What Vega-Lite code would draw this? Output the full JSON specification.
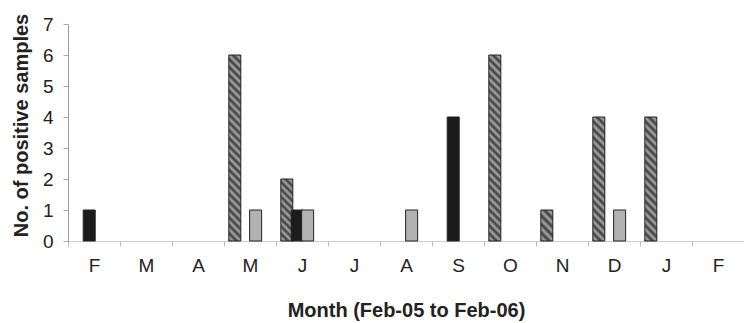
{
  "$schema": "https://vega.github.io/schema/vega-lite/v6.json",
  "width": 676,
  "height": 217,
  "autosize": {"type": "none"},
  "padding": {"left": 68, "top": 24, "right": 0, "bottom": 82},
  "background": "white",
  "config": {"view": {"stroke": null}, "font": "Liberation Sans"},
  "data": {
    "values": [
      {"month": "May-05", "series": "hatched", "count": 6},
      {"month": "Jun-05", "series": "hatched", "count": 2},
      {"month": "Oct-05", "series": "hatched", "count": 6},
      {"month": "Nov-05", "series": "hatched", "count": 1},
      {"month": "Dec-05", "series": "hatched", "count": 4},
      {"month": "Jan-06", "series": "hatched", "count": 4},
      {"month": "Feb-05", "series": "black", "count": 1},
      {"month": "Jun-05", "series": "black", "count": 1},
      {"month": "Sep-05", "series": "black", "count": 4},
      {"month": "May-05", "series": "grey", "count": 1},
      {"month": "Jun-05", "series": "grey", "count": 1},
      {"month": "Aug-05", "series": "grey", "count": 1},
      {"month": "Dec-05", "series": "grey", "count": 1}
    ]
  },
  "mark": {"type": "bar", "width": 12, "stroke": "#222222", "strokeWidth": 1},
  "encoding": {
    "x": {
      "field": "month",
      "type": "nominal",
      "sort": null,
      "scale": {
        "type": "band",
        "domain": ["Feb-05", "Mar-05", "Apr-05", "May-05", "Jun-05", "Jul-05", "Aug-05", "Sep-05", "Oct-05", "Nov-05", "Dec-05", "Jan-06", "Feb-06"],
        "paddingInner": 0,
        "paddingOuter": 0
      },
      "axis": {
        "title": "Month (Feb-05 to Feb-06)",
        "labelExpr": "substring(datum.label, 0, 1)",
        "labelAngle": 0,
        "labelFontSize": 19,
        "labelColor": "#222222",
        "labelPadding": 10,
        "tickBand": "extent",
        "tickSize": 5,
        "tickColor": "#bbbbbb",
        "domainColor": "#cccccc",
        "titleFontSize": 20,
        "titleFontWeight": "bold",
        "titleColor": "#222222",
        "titlePadding": 25
      }
    },
    "xOffset": {
      "field": "series",
      "type": "nominal",
      "scale": {
        "domain": ["hatched", "black", "grey"],
        "paddingInner": 0,
        "paddingOuter": 1.17,
        "align": 0.27
      }
    },
    "y": {
      "field": "count",
      "type": "quantitative",
      "scale": {"domain": [0, 7], "nice": false},
      "axis": {
        "title": "No. of positive samples",
        "values": [0, 1, 2, 3, 4, 5, 6, 7],
        "grid": false,
        "labelFontSize": 19,
        "labelColor": "#222222",
        "labelPadding": 10,
        "tickSize": 5,
        "tickColor": "#aaaaaa",
        "domainColor": "#999999",
        "titleFontSize": 20,
        "titleFontWeight": "bold",
        "titleColor": "#222222",
        "titlePadding": 11,
        "titleY": 101
      }
    },
    "fill": {
      "condition": [
        {
          "test": "datum.series == 'hatched' && datum.count == 6",
          "value": {
            "gradient": "linear", "x1": 0, "y1": 1, "x2": 0.0684, "y2": -0.0601,
            "stops": [
              {"offset": 0, "color": "#3a3a3a"}, {"offset": 0.02, "color": "#a8a8a8"}, {"offset": 0.04, "color": "#3a3a3a"}, {"offset": 0.06, "color": "#a8a8a8"},
              {"offset": 0.08, "color": "#3a3a3a"}, {"offset": 0.1, "color": "#a8a8a8"}, {"offset": 0.12, "color": "#3a3a3a"}, {"offset": 0.14, "color": "#a8a8a8"},
              {"offset": 0.16, "color": "#3a3a3a"}, {"offset": 0.18, "color": "#a8a8a8"}, {"offset": 0.2, "color": "#3a3a3a"}, {"offset": 0.22, "color": "#a8a8a8"},
              {"offset": 0.24, "color": "#3a3a3a"}, {"offset": 0.26, "color": "#a8a8a8"}, {"offset": 0.28, "color": "#3a3a3a"}, {"offset": 0.3, "color": "#a8a8a8"},
              {"offset": 0.32, "color": "#3a3a3a"}, {"offset": 0.34, "color": "#a8a8a8"}, {"offset": 0.36, "color": "#3a3a3a"}, {"offset": 0.38, "color": "#a8a8a8"},
              {"offset": 0.4, "color": "#3a3a3a"}, {"offset": 0.42, "color": "#a8a8a8"}, {"offset": 0.44, "color": "#3a3a3a"}, {"offset": 0.46, "color": "#a8a8a8"},
              {"offset": 0.48, "color": "#3a3a3a"}, {"offset": 0.5, "color": "#a8a8a8"}, {"offset": 0.52, "color": "#3a3a3a"}, {"offset": 0.54, "color": "#a8a8a8"},
              {"offset": 0.56, "color": "#3a3a3a"}, {"offset": 0.58, "color": "#a8a8a8"}, {"offset": 0.6, "color": "#3a3a3a"}, {"offset": 0.62, "color": "#a8a8a8"},
              {"offset": 0.64, "color": "#3a3a3a"}, {"offset": 0.66, "color": "#a8a8a8"}, {"offset": 0.68, "color": "#3a3a3a"}, {"offset": 0.7, "color": "#a8a8a8"},
              {"offset": 0.72, "color": "#3a3a3a"}, {"offset": 0.74, "color": "#a8a8a8"}, {"offset": 0.76, "color": "#3a3a3a"}, {"offset": 0.78, "color": "#a8a8a8"},
              {"offset": 0.8, "color": "#3a3a3a"}, {"offset": 0.82, "color": "#a8a8a8"}, {"offset": 0.84, "color": "#3a3a3a"}, {"offset": 0.86, "color": "#a8a8a8"},
              {"offset": 0.88, "color": "#3a3a3a"}, {"offset": 0.9, "color": "#a8a8a8"}, {"offset": 0.92, "color": "#3a3a3a"}, {"offset": 0.94, "color": "#a8a8a8"},
              {"offset": 0.96, "color": "#3a3a3a"}, {"offset": 0.98, "color": "#a8a8a8"}, {"offset": 1, "color": "#3a3a3a"}
            ]
          }
        },
        {
          "test": "datum.series == 'hatched' && datum.count == 4",
          "value": {
            "gradient": "linear", "x1": 0, "y1": 1, "x2": 0.1052, "y2": -0.0866,
            "stops": [
              {"offset": 0, "color": "#3a3a3a"}, {"offset": 0.0294, "color": "#a8a8a8"}, {"offset": 0.0588, "color": "#3a3a3a"}, {"offset": 0.0882, "color": "#a8a8a8"},
              {"offset": 0.1176, "color": "#3a3a3a"}, {"offset": 0.1471, "color": "#a8a8a8"}, {"offset": 0.1765, "color": "#3a3a3a"}, {"offset": 0.2059, "color": "#a8a8a8"},
              {"offset": 0.2353, "color": "#3a3a3a"}, {"offset": 0.2647, "color": "#a8a8a8"}, {"offset": 0.2941, "color": "#3a3a3a"}, {"offset": 0.3235, "color": "#a8a8a8"},
              {"offset": 0.3529, "color": "#3a3a3a"}, {"offset": 0.3824, "color": "#a8a8a8"}, {"offset": 0.4118, "color": "#3a3a3a"}, {"offset": 0.4412, "color": "#a8a8a8"},
              {"offset": 0.4706, "color": "#3a3a3a"}, {"offset": 0.5, "color": "#a8a8a8"}, {"offset": 0.5294, "color": "#3a3a3a"}, {"offset": 0.5588, "color": "#a8a8a8"},
              {"offset": 0.5882, "color": "#3a3a3a"}, {"offset": 0.6176, "color": "#a8a8a8"}, {"offset": 0.6471, "color": "#3a3a3a"}, {"offset": 0.6765, "color": "#a8a8a8"},
              {"offset": 0.7059, "color": "#3a3a3a"}, {"offset": 0.7353, "color": "#a8a8a8"}, {"offset": 0.7647, "color": "#3a3a3a"}, {"offset": 0.7941, "color": "#a8a8a8"},
              {"offset": 0.8235, "color": "#3a3a3a"}, {"offset": 0.8529, "color": "#a8a8a8"}, {"offset": 0.8824, "color": "#3a3a3a"}, {"offset": 0.9118, "color": "#a8a8a8"},
              {"offset": 0.9412, "color": "#3a3a3a"}, {"offset": 0.9706, "color": "#a8a8a8"}, {"offset": 1, "color": "#3a3a3a"}
            ]
          }
        },
        {
          "test": "datum.series == 'hatched' && datum.count == 2",
          "value": {
            "gradient": "linear", "x1": 0, "y1": 1, "x2": 0.2227, "y2": -0.1505,
            "stops": [
              {"offset": 0, "color": "#3a3a3a"}, {"offset": 0.05, "color": "#a8a8a8"}, {"offset": 0.1, "color": "#3a3a3a"}, {"offset": 0.15, "color": "#a8a8a8"},
              {"offset": 0.2, "color": "#3a3a3a"}, {"offset": 0.25, "color": "#a8a8a8"}, {"offset": 0.3, "color": "#3a3a3a"}, {"offset": 0.35, "color": "#a8a8a8"},
              {"offset": 0.4, "color": "#3a3a3a"}, {"offset": 0.45, "color": "#a8a8a8"}, {"offset": 0.5, "color": "#3a3a3a"}, {"offset": 0.55, "color": "#a8a8a8"},
              {"offset": 0.6, "color": "#3a3a3a"}, {"offset": 0.65, "color": "#a8a8a8"}, {"offset": 0.7, "color": "#3a3a3a"}, {"offset": 0.75, "color": "#a8a8a8"},
              {"offset": 0.8, "color": "#3a3a3a"}, {"offset": 0.85, "color": "#a8a8a8"}, {"offset": 0.9, "color": "#3a3a3a"}, {"offset": 0.95, "color": "#a8a8a8"},
              {"offset": 1, "color": "#3a3a3a"}
            ]
          }
        },
        {
          "test": "datum.series == 'hatched' && datum.count == 1",
          "value": {
            "gradient": "linear", "x1": 0, "y1": 1, "x2": 0.467, "y2": -0.2063,
            "stops": [
              {"offset": 0, "color": "#3a3a3a"}, {"offset": 0.1, "color": "#a8a8a8"}, {"offset": 0.2, "color": "#3a3a3a"}, {"offset": 0.3, "color": "#a8a8a8"},
              {"offset": 0.4, "color": "#3a3a3a"}, {"offset": 0.5, "color": "#a8a8a8"}, {"offset": 0.6, "color": "#3a3a3a"}, {"offset": 0.7, "color": "#a8a8a8"},
              {"offset": 0.8, "color": "#3a3a3a"}, {"offset": 0.9, "color": "#a8a8a8"}, {"offset": 1, "color": "#3a3a3a"}
            ]
          }
        },
        {"test": "datum.series == 'black'", "value": "#1c1c1c"}
      ],
      "value": "#b2b2b2"
    }
  }
}
